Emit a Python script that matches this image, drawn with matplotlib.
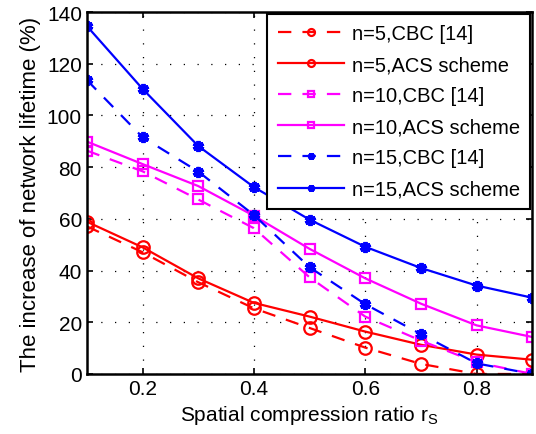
import matplotlib
matplotlib.use("Agg")
import matplotlib.pyplot as plt

x = [0.1, 0.2, 0.3, 0.4, 0.5, 0.6, 0.7, 0.8, 0.9]
n5_cbc = [57.1, 47.1, 35.5, 25.4, 17.8, 10.2, 3.9, 0.0, 0.0]
n5_acs = [58.9, 49.0, 37.0, 27.5, 22.2, 16.4, 11.3, 7.5, 5.5]
n10_cbc = [86.4, 78.4, 67.5, 56.4, 37.4, 22.2, 12.9, 4.5, 0.0]
n10_acs = [89.9, 81.2, 72.7, 61.2, 48.4, 37.0, 27.2, 18.8, 14.3]
n15_cbc = [113.7, 91.6, 78.3, 61.5, 41.3, 27.0, 15.4, 4.1, 0.0]
n15_acs = [134.6, 110.3, 88.2, 72.3, 59.7, 49.2, 41.0, 34.2, 29.5]
labels = ["n=5,CBC [14]", "n=5,ACS scheme", "n=10,CBC [14]",
          "n=10,ACS scheme", "n=15,CBC [14]", "n=15,ACS scheme"]
xticks = [0.2, 0.4, 0.6, 0.8]
yticks = [0, 20, 40, 60, 80, 100, 120, 140]

plt.rcParams['font.family'] = ['Liberation Sans', 'DejaVu Sans']
fig = plt.figure(figsize=(5.36, 4.35), dpi=100)
ax = fig.add_axes([0.162, 0.138, 0.831, 0.832])

ast = (6, 2, 0)
series = [
    (n5_cbc, 'red', '--', 'o', 9, 'none', 1.6),
    (n5_acs, 'red', '-', 'o', 9, 'none', 1.6),
    (n10_cbc, '#ff00ff', '--', 's', 7, 'none', 1.6),
    (n10_acs, '#ff00ff', '-', 's', 7, 'none', 1.6),
    (n15_cbc, 'blue', '--', ast, 8, 'blue', 2.8),
    (n15_acs, 'blue', '-', ast, 8, 'blue', 2.8),
]
for (y, c, ls, m, ms, mfc, mew), lab in zip(series, labels):
    kw = dict(color=c, linestyle=ls, marker=m, markersize=ms,
              markerfacecolor=mfc, markeredgecolor=c, markeredgewidth=mew,
              linewidth=1.6, label=lab)
    if ls == '--':
        kw['dashes'] = (6, 5)
    ax.plot(x, y, **kw)

ax.set_xlim(0.1, 0.9)
ax.set_ylim(0, 140)
ax.set_xticks(xticks)
ax.set_yticks(yticks)
ax.set_xticklabels(["0.2", "0.4", "0.6", "0.8"])
ax.tick_params(direction='in', top=True, right=True, labelsize=15, width=1.2, length=4)
ax.grid(True, color='black', linestyle=(0, (1, 10)), linewidth=0.9)
for s in ax.spines.values():
    s.set_linewidth(1.8)
ax.set_xlabel("Spatial compression ratio r$_\\mathregular{S}$", fontsize=15)
ax.set_ylabel("The increase of network lifetime (%)", fontsize=16)

leg = ax.legend(loc='upper right', fontsize=14.5, frameon=True, fancybox=False,
                edgecolor='black', framealpha=1, handlelength=3.3,
                borderaxespad=0.1, labelspacing=0.6, handletextpad=0.4,
                borderpad=0.5)
leg.get_frame().set_linewidth(1.5)
for h in leg.legend_handles:
    h.set_markersize(5)

fig.savefig("out.png", dpi=100)
